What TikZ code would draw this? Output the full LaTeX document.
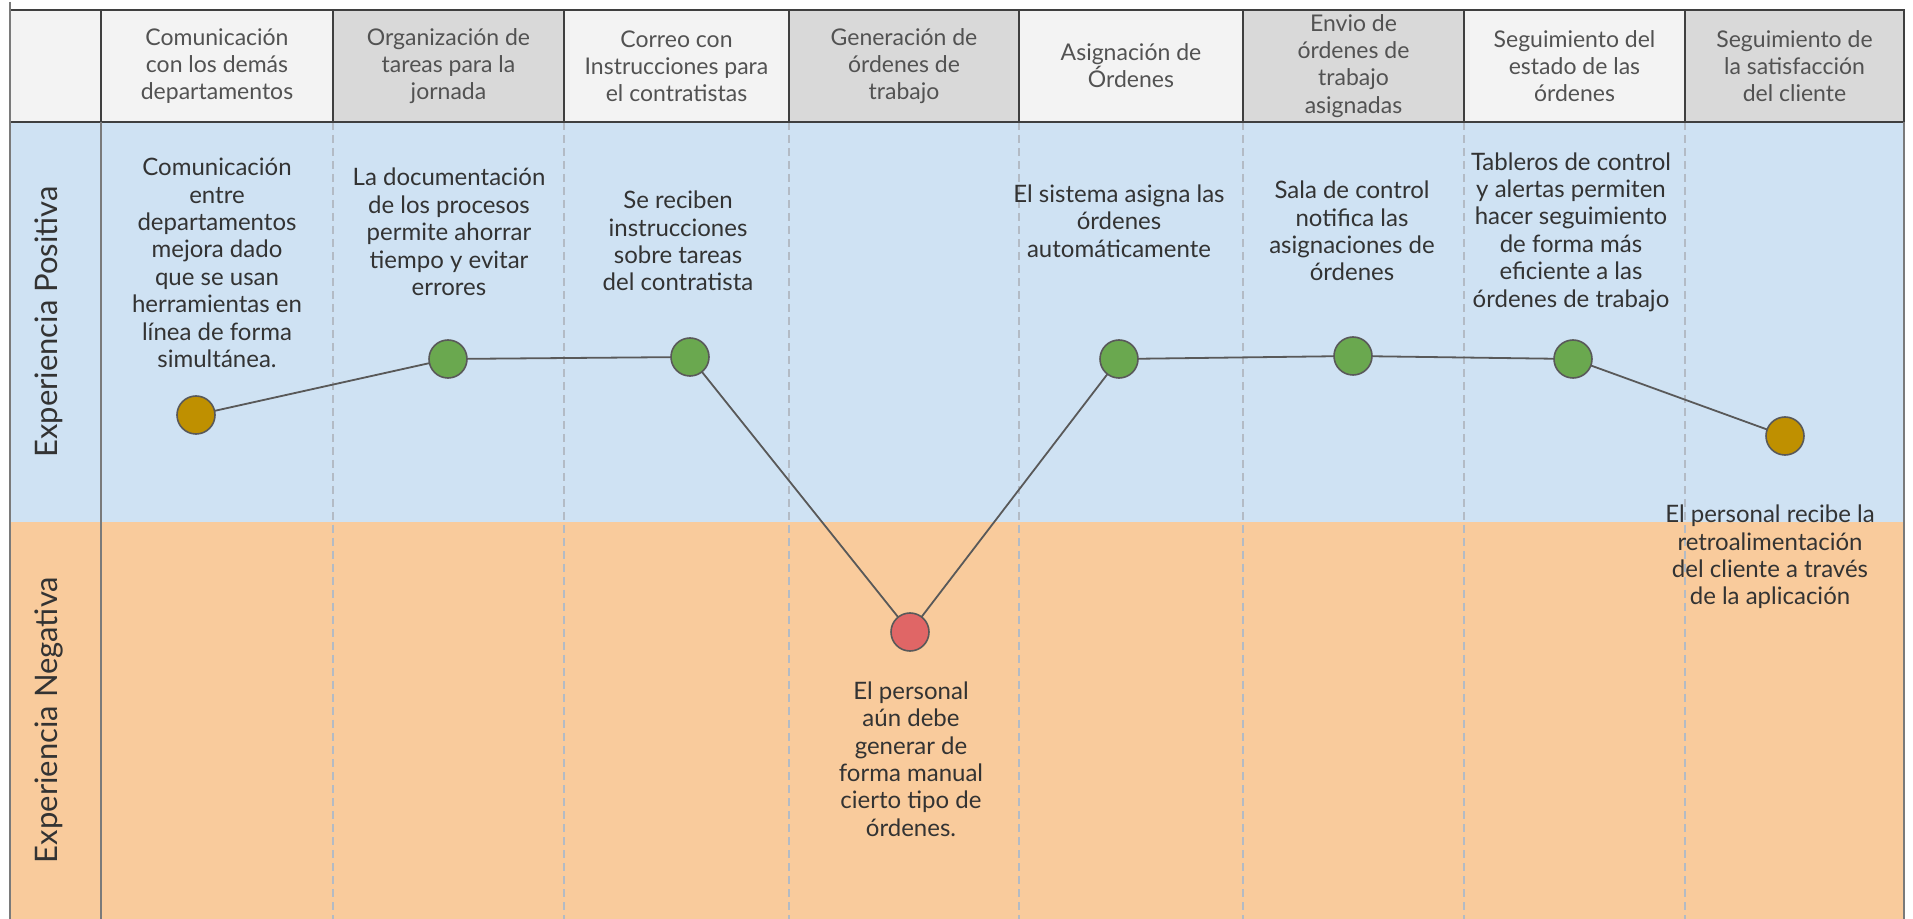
\documentclass[tikz,border=0pt]{standalone}
\usepackage{fontspec}
\setmainfont{Lato}
\usetikzlibrary{positioning}
\definecolor{bandblue}{HTML}{CFE2F3}
\definecolor{bandorange}{HTML}{F9CB9C}
\definecolor{headlight}{HTML}{F3F3F3}
\definecolor{headgray}{HTML}{D9D9D9}
\definecolor{dotgreen}{HTML}{6AA84F}
\definecolor{dotgold}{HTML}{BF9000}
\definecolor{dotred}{HTML}{E06666}
\definecolor{edgegray}{HTML}{595959}
\definecolor{rulegray}{HTML}{3F3F3F}
\definecolor{gridgray}{HTML}{B3BBC5}
\definecolor{inkgray}{HTML}{333333}
\tikzset{every node/.style={inner sep=0pt, outer sep=0pt}}
\tikzset{head/.style={draw=rulegray, line width=1.2pt, minimum height=56pt, align=center, text=inkgray!85, font=\fontsize{11.5}{13.6}\selectfont}}
\tikzset{note/.style={align=center, text=inkgray, font=\fontsize{12}{13.7}\selectfont}}
\tikzset{lane/.style={rotate=90, text=inkgray, font=\fontsize{15.5}{17}\selectfont}}
\tikzset{dot/.style={circle, draw=edgegray, line width=0.8pt, minimum size=19pt}}
\tikzset{good/.style={dot, fill=dotgreen}}
\tikzset{fair/.style={dot, fill=dotgold}}
\tikzset{bad/.style={dot, fill=dotred}}
\tikzset{link/.style={draw=edgegray, line width=0.9pt}}
\tikzset{colsep/.style={draw=gridgray, line width=1.1pt, dash pattern=on 4pt off 2.5pt}}

\begin{document}
\begin{tikzpicture}[x=0.5pt, y=-0.5pt]
\useasboundingbox (0,0) rectangle (1913,919);
% bands
\fill[bandblue] (10,122) rectangle (1904,522);
\fill[bandorange] (10,522) rectangle (1904,919);
\foreach \xs in {333,564,789,1019,1243,1464,1685}
    \draw[colsep] (\xs,122) -- (\xs,919);
% header row
\node[head, fill=headlight, minimum width=45.5pt] (h0) at (55.5,66) {};
\node[head, fill=headlight, minimum width=116pt] (h1) at (217,66) {Comunicación\\con los demás\\departamentos};
\node[head, fill=headgray, minimum width=115.5pt] (h2) at (448.5,66) {Organización de\\tareas para la\\jornada};
\node[head, fill=headlight, minimum width=112.5pt] (h3) at (676.5,66) {Correo con\\Instrucciones para\\el contratistas};
\node[head, fill=headgray, minimum width=115pt] (h4) at (904,66) {Generación de\\órdenes de\\trabajo};
\node[head, fill=headlight, minimum width=112pt] (h5) at (1131,66) {Asignación de\\Órdenes};
\node[head, fill=headgray, minimum width=110.5pt] (h6) at (1353.5,66) {Envio de\\órdenes de\\trabajo\\asignadas};
\node[head, fill=headlight, minimum width=110.5pt] (h7) at (1574.5,66) {Seguimiento del\\estado de las\\órdenes};
\node[head, fill=headgray, minimum width=109.5pt] (h8) at (1794.5,66) {Seguimiento de\\la satisfacción\\del cliente};
% borders
\draw[edgegray!80, line width=1pt] (10,2) -- (10,919);
\draw[edgegray!80, line width=1pt] (101,122) -- (101,919);
\draw[edgegray!80, line width=1pt] (1904,122) -- (1904,919);
% lanes
\node[lane] (pos) at (49,322) {Experiencia Positiva};
\node[lane] (neg) at (49,720) {Experiencia Negativa};
% journey points
\node[fair] (p1) at (196,415) {};
\node[good] (p2) at (448,359) {};
\node[good] (p3) at (690,357) {};
\node[bad]  (p4) at (910,632) {};
\node[good] (p5) at (1119,359) {};
\node[good] (p6) at (1353,356) {};
\node[good] (p7) at (1573,359) {};
\node[fair] (p8) at (1785,436) {};
\draw[link] (p1) -- (p2) -- (p3) -- (p4) -- (p5) -- (p6) -- (p7) -- (p8);
% notes
\node[note] (n1) at (217,263) {Comunicación\\entre\\departamentos\\mejora dado\\que se usan\\herramientas en\\línea de forma\\simultánea.};
\node[note] (n2) at (449,232) {La documentación\\de los procesos\\permite ahorrar\\tiempo y evitar\\errores};
\node[note] (n3) at (678,241) {Se reciben\\instrucciones\\sobre tareas\\del contratista};
\node[note] (n4) at (911,759) {El personal\\aún debe\\generar de\\forma manual\\cierto tipo de\\órdenes.};
\node[note] (n5) at (1119,221) {El sistema asigna las\\órdenes\\automáticamente};
\node[note] (n6) at (1352,231) {Sala de control\\notifica las\\asignaciones de\\órdenes};
\node[note] (n7) at (1571,232) {Tableros de control\\y alertas permiten\\hacer seguimiento\\de forma más\\eficiente a las\\órdenes de trabajo};
\node[note] (n8) at (1770,557) {El personal recibe la\\retroalimentación\\del cliente a través\\de la aplicación};
\end{tikzpicture}
\end{document}
